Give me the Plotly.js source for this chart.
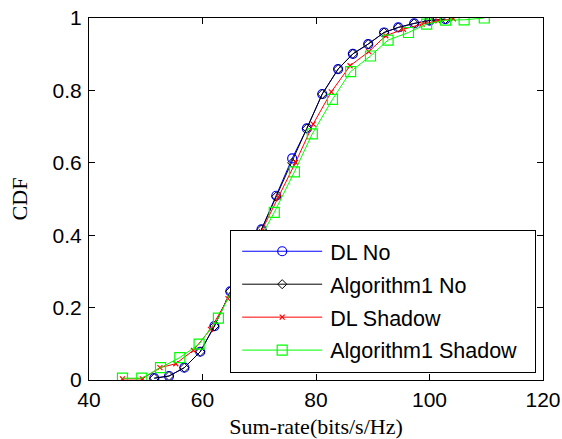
<!DOCTYPE html>
<html>
<head>
<meta charset="utf-8">
<script src="https://cdn.plot.ly/plotly-3.0.1.min.js"></script>
<style>
html,body{margin:0;padding:0;background:#fff;}
#chart{width:562px;height:439px;}
</style>
</head>
<body>
<div id="chart"></div>
<script>
// Series names
var seriesNames = ["DL No", "Algorithm1 No", "DL Shadow", "Algorithm1 Shadow"];

// DL No (blue circles)
var dlNoX = [51.5, 54.1, 56.8, 59.6, 62.1, 64.9, 67.6, 70.4, 73.0, 75.8, 78.4, 81.1, 83.9, 86.5, 89.2, 92.0, 94.5, 97.3, 100.0, 102.8];
var dlNoY = [0.005, 0.011, 0.034, 0.078, 0.149, 0.245, 0.333, 0.416, 0.509, 0.612, 0.695, 0.790, 0.859, 0.901, 0.928, 0.960, 0.974, 0.985, 0.993, 0.997];

// Algorithm1 No (black diamonds)
var algNoX = [51.5, 54.1, 56.8, 59.6, 62.1, 64.9, 67.6, 70.4, 73.0, 75.8, 78.4, 81.1, 83.9, 86.5, 89.2, 92.0, 94.5, 97.3, 100.0, 102.8];
var algNoY = [0.005, 0.011, 0.034, 0.078, 0.149, 0.245, 0.333, 0.416, 0.507, 0.600, 0.695, 0.790, 0.859, 0.901, 0.928, 0.960, 0.974, 0.985, 0.993, 0.997];

// DL Shadow (red x)
var dlShX = [45.9, 49.4, 52.5, 55.3, 58.4, 61.4, 64.5, 67.5, 70.4, 73.4, 76.4, 79.5, 82.7, 86.0, 89.3, 92.3, 95.4, 98.7, 101.5, 104.2];
var dlShY = [0.003, 0.003, 0.034, 0.045, 0.082, 0.140, 0.225, 0.320, 0.410, 0.505, 0.601, 0.707, 0.796, 0.868, 0.907, 0.951, 0.969, 0.983, 0.992, 0.998];

// Algorithm1 Shadow (green squares)
var algShX = [45.9, 49.3, 52.6, 56.0, 59.4, 62.8, 66.1, 69.4, 72.65, 76.2, 79.35, 82.9, 86.1, 89.6, 92.7, 96.3, 99.5, 102.85, 106.1, 109.65];
var algShY = [0.005, 0.005, 0.034, 0.062, 0.099, 0.171, 0.280, 0.370, 0.463, 0.575, 0.680, 0.775, 0.852, 0.895, 0.939, 0.960, 0.983, 0.994, 0.995, 1.000];

// Axis ticks
var xTicks = [40, 60, 80, 100, 120];
var yTicks = [0, 0.2, 0.4, 0.6, 0.8, 1];
var yTickText = ["0", "0.2", "0.4", "0.6", "0.8", "1"];

var traces = [
  {x: dlNoX, y: dlNoY, name: seriesNames[0], mode: "lines+markers", legendgroup: "a",
   line: {color: "#0000ff", width: 1},
   marker: {symbol: "circle-open", size: 9, color: "#0000ff", line: {width: 1.2, color: "#0000ff"}}},
  {x: algNoX, y: algNoY, name: seriesNames[1], mode: "lines+markers", legendgroup: "b",
   line: {color: "#000000", width: 1},
   marker: {symbol: "diamond-open", size: 7, color: "#000000", line: {width: 1, color: "#000000"}}},
  {x: dlShX, y: dlShY, name: seriesNames[2], mode: "lines+markers", legendgroup: "c",
   line: {color: "#ff0000", width: 1},
   marker: {symbol: "x-thin-open", size: 5, color: "#ff0000", line: {width: 1.2, color: "#ff0000"}}},
  {x: algShX, y: algShY, name: seriesNames[3], mode: "lines+markers", legendgroup: "d",
   line: {color: "#00ff00", width: 1},
   marker: {symbol: "square-open", size: 10, color: "#00ff00", line: {width: 1.2, color: "#00ff00"}}}
];

var tickFont = {family: "Liberation Sans, Arial, sans-serif", size: 21, color: "#000"};
var titleFont = {family: "Liberation Serif, Times New Roman, serif", size: 22, color: "#000"};

var layout = {
  width: 562, height: 439,
  margin: {l: 89, r: 19, t: 18, b: 59, pad: 0},
  paper_bgcolor: "#fff", plot_bgcolor: "#fff",
  showlegend: true,
  xaxis: {
    range: [40, 120], tickvals: xTicks, ticks: "inside", ticklen: 6, tickcolor: "#000",
    showline: true, linecolor: "#000", linewidth: 1, mirror: "ticks",
    showgrid: false, zeroline: false, tickfont: tickFont, ticklabelstandoff: 1,
    title: {text: "Sum-rate(bits/s/Hz)", font: titleFont, standoff: 16},
    automargin: false
  },
  yaxis: {
    range: [0, 1], tickvals: yTicks, ticktext: yTickText, ticks: "inside", ticklen: 6, tickcolor: "#000",
    showline: true, linecolor: "#000", linewidth: 1, mirror: "ticks",
    showgrid: false, zeroline: false, tickfont: tickFont, ticklabelstandoff: 2,
    title: {text: "CDF", font: titleFont, standoff: 18},
    automargin: false
  },
  legend: {
    x: 0.311, y: 0.415, xanchor: "left", yanchor: "top",
    bgcolor: "#fff", bordercolor: "#000", borderwidth: 1,
    font: {family: "Liberation Sans, Arial, sans-serif", size: 21.5, color: "#000"},
    itemwidth: 89, tracegroupgap: 2, traceorder: "grouped"
  }
};

Plotly.newPlot("chart", traces, layout, {staticPlot: true}).then(function (gd) {
  // Lengthen the legend line samples to match the reference style
  var items = gd.querySelectorAll(".legend .traces");
  items.forEach(function (it) {
    it.querySelectorAll(".legendlines path").forEach(function (p) {
      p.setAttribute("d", "M11,0h80");
    });
    it.querySelectorAll(".legendpoints path").forEach(function (p) {
      p.setAttribute("transform", "translate(51,0)");
    });
  });
  var bg = gd.querySelector(".legend rect.bg");
  if (bg) { bg.setAttribute("width", "305"); bg.setAttribute("height", "142"); }
});
</script>
</body>
</html>
